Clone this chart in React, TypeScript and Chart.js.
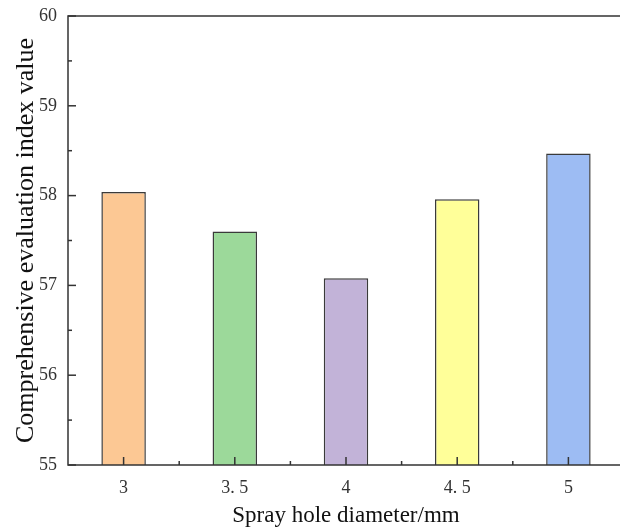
import React, { useEffect, useRef } from "react";
import { Chart, registerables } from "chart.js";

Chart.register(...registerables);

const categories = ["3", "3. 5", "4", "4. 5", "5"];
const values = [58.04, 57.6, 57.08, 57.96, 58.47];
const barColors = ["#FCC894", "#9CD99A", "#C2B3D8", "#FFFF99", "#9DBCF3"];
const yMin = 55;
const yMax = 60;

const frameTicks = {
  id: "frameTicks",
  afterDraw(chart: any) {
    const { ctx, chartArea, scales } = chart;
    const { left, right, top, bottom } = chartArea;
    ctx.save();
    ctx.strokeStyle = "#333";
    ctx.lineWidth = 1.5;
    ctx.beginPath();
    ctx.rect(left, top, right - left, bottom - top);
    ctx.stroke();
    const y = scales.y;
    for (let v = yMin; v <= yMax; v += 0.5) {
      const py = y.getPixelForValue(v);
      const len = Number.isInteger(v) ? 8 : 4;
      ctx.beginPath();
      ctx.moveTo(left, py);
      ctx.lineTo(left + len, py);
      ctx.stroke();
    }
    const x = scales.x;
    for (let i = 0; i < categories.length; i++) {
      const px = x.getPixelForValue(i);
      ctx.beginPath();
      ctx.moveTo(px, bottom);
      ctx.lineTo(px, bottom - 8);
      ctx.stroke();
      if (i < categories.length - 1) {
        const pm = (px + x.getPixelForValue(i + 1)) / 2;
        ctx.beginPath();
        ctx.moveTo(pm, bottom);
        ctx.lineTo(pm, bottom - 4);
        ctx.stroke();
      }
    }
    ctx.restore();
  },
};

export default function App() {
  const ref = useRef<HTMLCanvasElement>(null);
  useEffect(() => {
    const chart = new Chart(ref.current!, {
      type: "bar",
      data: {
        labels: categories,
        datasets: [
          {
            data: values,
            backgroundColor: barColors,
            borderColor: "#3a3a3a",
            borderWidth: 1.5,
            barPercentage: 0.4,
            categoryPercentage: 1,
          },
        ],
      },
      options: {
        animation: false,
        responsive: false,
        maintainAspectRatio: false,
        layout: { padding: { top: 16, right: 0, left: 0, bottom: 0 } },
        plugins: { legend: { display: false }, tooltip: { enabled: false } },
        scales: {
          x: {
            grid: { display: false, drawTicks: false },
            border: { display: false },
            ticks: {
              color: "#333",
              padding: 12,
              font: { family: "Liberation Serif", size: 18 },
            },
            title: {
              display: true,
              text: "Spray hole diameter/mm",
              color: "#111",
              font: { family: "Liberation Serif", size: 23 },
              padding: { top: 4, bottom: 0 },
            },
            afterFit(scale: any) {
              scale.height = 65;
              scale.paddingLeft = 0;
              scale.paddingRight = 0;
            },
          },
          y: {
            min: yMin,
            max: yMax,
            grid: { display: false, drawTicks: false },
            border: { display: false },
            ticks: {
              stepSize: 1,
              color: "#333",
              padding: 11,
              font: { family: "Liberation Serif", size: 18 },
            },
            title: {
              display: true,
              text: "Comprehensive evaluation index value",
              color: "#111",
              font: { family: "Liberation Serif", size: 26 },
              padding: { top: 11, bottom: 0 },
            },
            afterFit(scale: any) {
              scale.width = 68;
              scale.paddingTop = 0;
              scale.paddingBottom = 0;
            },
          },
        },
      },
      plugins: [frameTicks],
    });
    return () => chart.destroy();
  }, []);
  return (
    <div
      style={{
        position: "absolute",
        left: 0,
        top: 0,
        width: 620,
        height: 530,
        overflow: "hidden",
        background: "#fff",
      }}
    >
      <canvas ref={ref} width={624} height={530} style={{ display: "block" }} />
    </div>
  );
}
